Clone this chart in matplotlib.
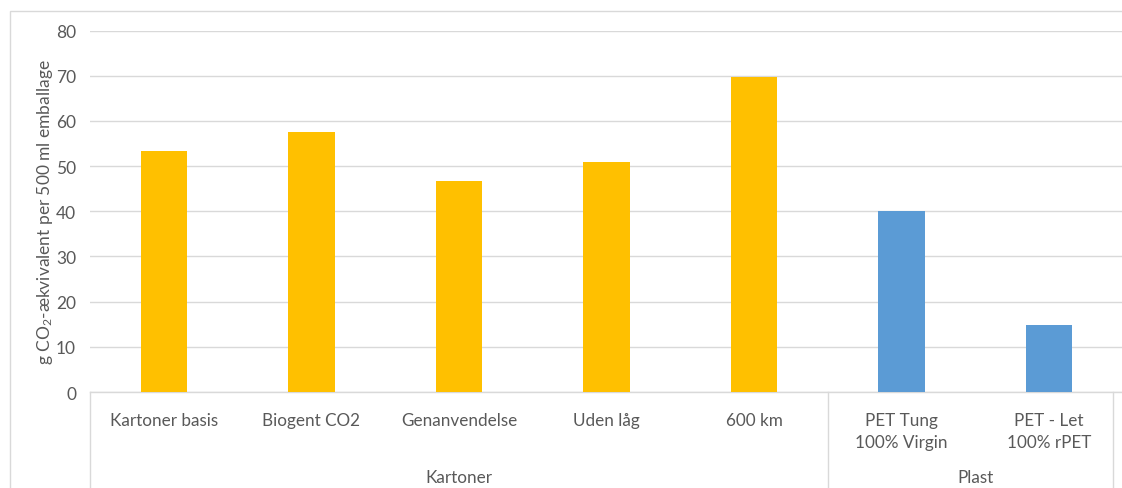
import matplotlib
matplotlib.use("Agg")
import matplotlib.pyplot as plt
from matplotlib.patches import Rectangle

# data
categories = ["Kartoner basis", "Biogent CO2", "Genanvendelse", "Uden låg", "600 km",
              "PET Tung\n100% Virgin", "PET - Let\n100% rPET"]
values = [53.3, 57.5, 46.7, 50.8, 69.7, 40.0, 14.8]
groups = ["Kartoner", "Kartoner", "Kartoner", "Kartoner", "Kartoner", "Plast", "Plast"]
y_ticks = [0, 10, 20, 30, 40, 50, 60, 70, 80]

YELLOW = "#FFC000"
BLUE = "#5B9BD5"
TEXT = "#595959"
LINE = "#D9D9D9"

plt.rcParams["font.family"] = ["Lato", "DejaVu Sans"]
plt.rcParams["mathtext.fontset"] = "custom"
plt.rcParams["mathtext.rm"] = "Lato"
plt.rcParams["mathtext.it"] = "Lato"

W, H = 1122, 489
fig = plt.figure(figsize=(W / 100, H / 100), dpi=100)


def px(x0, y0, x1, y1):
    # pixel box -> figure fraction [left, bottom, width, height]
    return [x0 / W, 1 - y1 / H, (x1 - x0) / W, (y1 - y0) / H]


ax = fig.add_axes(px(90, 31.5, 1123, 393))

colors = [YELLOW if g == "Kartoner" else BLUE for g in groups]
xs = list(range(len(categories)))
ax.bar(xs, values, width=0.315, color=colors, zorder=3)

ax.set_xlim(-0.5, len(categories) - 0.5)
ax.set_ylim(0, 80)
ax.set_yticks(y_ticks)
ax.set_yticklabels([str(t) for t in y_ticks], fontsize=12.5, color=TEXT)
ax.tick_params(axis="y", length=0, pad=10)
ax.set_xticks([])
ax.yaxis.grid(True, color=LINE, linewidth=1.0, zorder=0)
for s in ["top", "right", "left"]:
    ax.spines[s].set_visible(False)
ax.spines["bottom"].set_color(LINE)
ax.spines["bottom"].set_linewidth(1.0)

ax.set_ylabel("g CO$_2$-ækvivalent per 500 ml emballage", fontsize=12.5, color=TEXT, labelpad=1)

# category labels
trans = ax.get_xaxis_transform()
for x, lab in zip(xs, categories):
    ax.text(x, -0.055, lab, transform=trans, ha="center", va="top",
            fontsize=12.3, color=TEXT, linespacing=1.5)

# group labels and separators
group_names = []
for g in groups:
    if g not in group_names:
        group_names.append(g)
bounds = [-0.5]
for g in group_names:
    idx = [i for i, gg in enumerate(groups) if gg == g]
    lo, hi = idx[0] - 0.5, idx[-1] + 0.5
    ax.text((lo + hi) / 2, -0.212, g, transform=trans, ha="center", va="top",
            fontsize=12.3, color=TEXT)
    bounds.append(hi)
for b in bounds[:-1]:
    ax.plot([b, b], [0, -0.3], transform=trans, color=LINE, linewidth=1.0, clip_on=False)
# right end of the category box, as drawn in the chart
fig.add_artist(plt.Line2D([1112.5 / W, 1112.5 / W], [0, 1 - 393 / H], color=LINE, linewidth=1.0))

# outer chart border (left and top visible)
fig.add_artist(Rectangle((9.5 / W, -0.05), 1.2, 1 - 12 / H + 0.05, fill=False,
                         edgecolor=LINE, linewidth=1.0, transform=fig.transFigure))

fig.savefig("out.png", dpi=100)
